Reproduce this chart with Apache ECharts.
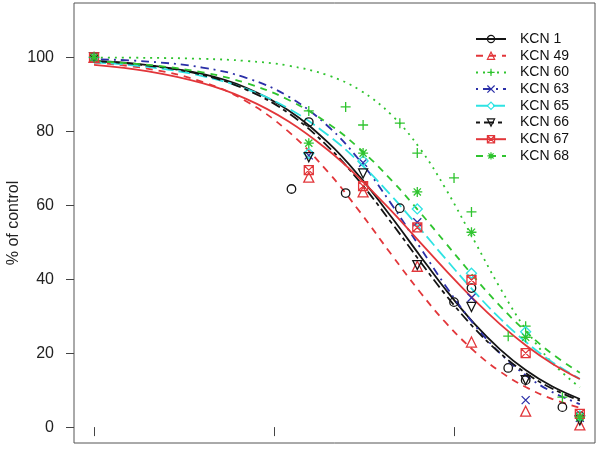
<!DOCTYPE html>
<html>
<head>
<meta charset="utf-8">
<script src="https://cdn.jsdelivr.net/npm/echarts@6/dist/echarts.min.js"></script>
<style>html,body{margin:0;padding:0;background:#fff}#c{width:600px;height:451px}</style>
</head>
<body>
<div id="c"></div>
<script>
// Observed concentrations (x, log axis) and % of control per series (null = no point)
const conc   = [1, 12.5, 15.6, 25, 31.25, 50, 62.5, 100, 125, 200, 250, 400, 500];
const kcn1   = [100, 64.4, 82.5, 63.3, null, 59.2, null, 33.8, 37.6, 16.0, 12.7, 5.4, 3.0];
const kcn49  = [100, null, 67.6, null, 63.6, null, 43.5, null, 23.0, null, 4.3, null, 0.6];
const kcn60  = [100, null, 85.5, 86.6, 81.7, 82.2, 74.1, 67.4, 58.2, 24.6, 27.3, 8.1, 3.0];
const kcn63  = [100, null, 73.5, null, 71.5, null, 55.4, null, 35.0, null, 7.3, null, 2.5];
const kcn65  = [100, null, 74.0, null, 72.0, null, 59.0, null, 41.6, null, 25.8, null, 3.0];
const kcn66  = [100, null, 73.0, null, 68.6, null, 43.8, null, 32.5, null, 12.7, null, 1.8];
const kcn67  = [100, null, 69.5, null, 65.2, null, 54.0, null, 39.8, null, 20.0, null, 3.6];
const kcn68  = [100, null, 76.8, null, 74.1, null, 63.6, null, 52.7, null, 24.3, null, 2.7];

// Fitted curves at these concentrations
const curveConc = [1, 2, 4, 7, 12, 20, 30, 45, 65, 90, 130, 180, 250, 350, 500];
const fit1  = [99.05, 97.92, 95.50, 91.78, 85.72, 76.92, 67.66, 56.74, 46.23, 37.15, 27.91, 21.04, 15.45, 11.04, 7.60];
const fit49 = [98.58, 96.91, 93.39, 88.12, 79.97, 68.93, 58.20, 46.60, 36.40, 28.23, 20.49, 15.06, 10.85, 7.63, 5.19];
const fit60 = [99.95, 99.87, 99.60, 99.03, 97.76, 95.11, 91.12, 84.39, 75.19, 64.40, 50.28, 37.69, 26.49, 17.46, 10.74];
const fit63 = [99.53, 98.86, 97.24, 94.46, 89.43, 81.31, 72.00, 60.24, 48.47, 38.11, 27.62, 20.00, 14.04, 9.53, 6.22];
const fit65 = [98.68, 97.40, 94.94, 91.46, 86.21, 78.93, 71.43, 62.50, 53.57, 45.45, 36.56, 29.40, 23.08, 17.64, 13.03];
const fit66 = [98.99, 97.79, 95.23, 91.28, 84.94, 75.80, 66.29, 55.21, 44.70, 35.71, 26.68, 20.02, 14.65, 10.44, 7.17];
const fit67 = [97.97, 96.21, 93.01, 88.78, 82.73, 74.87, 67.16, 58.38, 49.90, 42.39, 34.32, 27.86, 22.16, 17.22, 12.99];
const fit68 = [98.98, 97.96, 95.95, 93.05, 88.53, 82.10, 75.21, 66.73, 57.96, 49.73, 40.45, 32.79, 25.87, 19.84, 14.67];

const names = ['KCN 1', 'KCN 49', 'KCN 60', 'KCN 63', 'KCN 65', 'KCN 66', 'KCN 67', 'KCN 68'];
const xTicks = [1, 10, 100];
const yTicks = [0, 20, 40, 60, 80, 100];

const points = [kcn1, kcn49, kcn60, kcn63, kcn65, kcn66, kcn67, kcn68];
const fits = [fit1, fit49, fit60, fit63, fit65, fit66, fit67, fit68];

const BLACK = '#141414', RED = '#e2363a', GREEN = '#2fc42f', BLUE = '#2b2fa8', CYAN = '#2ee3e3';
const colors = [BLACK, RED, GREEN, BLUE, CYAN, BLACK, RED, GREEN];
const dashes = ['solid', [7, 6], [2, 5], [2, 5, 8, 5], [12, 5], [4, 4, 10, 4], 'solid', [7, 6]];
const symbols = [
  'circle',
  'triangle',
  'path://M0,-1L0,1M-1,0L1,0',
  'path://M-1,-1L1,1M1,-1L-1,1',
  'diamond',
  'path://M-1,-1L1,-1L0,1Z',
  'path://M-1,-1L1,-1L1,1L-1,1ZM-1,-1L1,1M1,-1L-1,1',
  'path://M0,-1L0,1M-1,0L1,0M-0.72,-0.72L0.72,0.72M0.72,-0.72L-0.72,0.72'
];
const sizes = [8.5, 10, 10, 8, 10, 9, 9, 10];
const CLEAR = 'rgba(255,255,255,0)';

const series = [];
names.forEach((n, i) => {
  series.push({
    name: n, type: 'line', smooth: 0.4,
    data: curveConc.map((c, k) => [c, fits[i][k]]),
    showSymbol: false, symbol: symbols[i], symbolSize: sizes[i],
    itemStyle: { color: CLEAR, borderColor: colors[i], borderWidth: 1.3 },
    lineStyle: { color: colors[i], width: 1.8, type: dashes[i] },
    emphasis: { disabled: true }, silent: true, z: 2
  });
});
names.forEach((n, i) => {
  const d = [];
  conc.forEach((c, k) => { if (points[i][k] !== null) d.push([c, points[i][k]]); });
  series.push({
    name: n, type: 'scatter', data: d,
    symbol: symbols[i], symbolSize: sizes[i],
    itemStyle: { color: CLEAR, borderColor: colors[i], borderWidth: 1.3, opacity: 1 },
    emphasis: { disabled: true }, silent: true, z: 3
  });
});

const FONT = 'Liberation Sans, Arial, sans-serif';
const chart = echarts.init(document.getElementById('c'), null, { renderer: 'canvas' });
chart.setOption({
  animation: false,
  backgroundColor: '#fff',
  grid: { left: 74, right: 5, top: 3, bottom: 8, show: true, borderColor: '#555', borderWidth: 1,
          backgroundColor: 'transparent', containLabel: false, outerBoundsMode: 'none' },
  xAxis: {
    type: 'log', logBase: 10, min: 0.774, max: 607,
    axisLine: { show: false },
    axisTick: { show: true, customValues: xTicks, length: 9, lineStyle: { color: '#444', width: 1 } },
    axisLabel: { show: false },
    splitLine: { show: false }
  },
  yAxis: {
    type: 'value', min: -4.3, max: 114.7,
    axisLine: { show: false },
    axisTick: { show: true, customValues: yTicks, length: 8, lineStyle: { color: '#444', width: 1 } },
    axisLabel: { customValues: yTicks, margin: 20, fontSize: 16, color: '#222', fontFamily: FONT },
    splitLine: { show: false },
    name: '% of control', nameLocation: 'middle', nameGap: 52, nameMoveOverlap: false,
    nameTextStyle: { fontSize: 16, color: '#222', fontFamily: FONT }
  },
  legend: {
    data: names.map((n, i) => ({ name: n, itemStyle: { color: CLEAR, borderColor: colors[i], borderWidth: 1.2 } })),
    orient: 'vertical', left: 475, top: 31, padding: 0,
    itemWidth: 30, itemHeight: 9, itemGap: 0.7, selectedMode: false,
    textStyle: { fontSize: 14, color: '#111', lineHeight: 16, padding: [0, 0, 0, 9], fontFamily: FONT }
  },
  series: series
});
</script>
</body>
</html>
